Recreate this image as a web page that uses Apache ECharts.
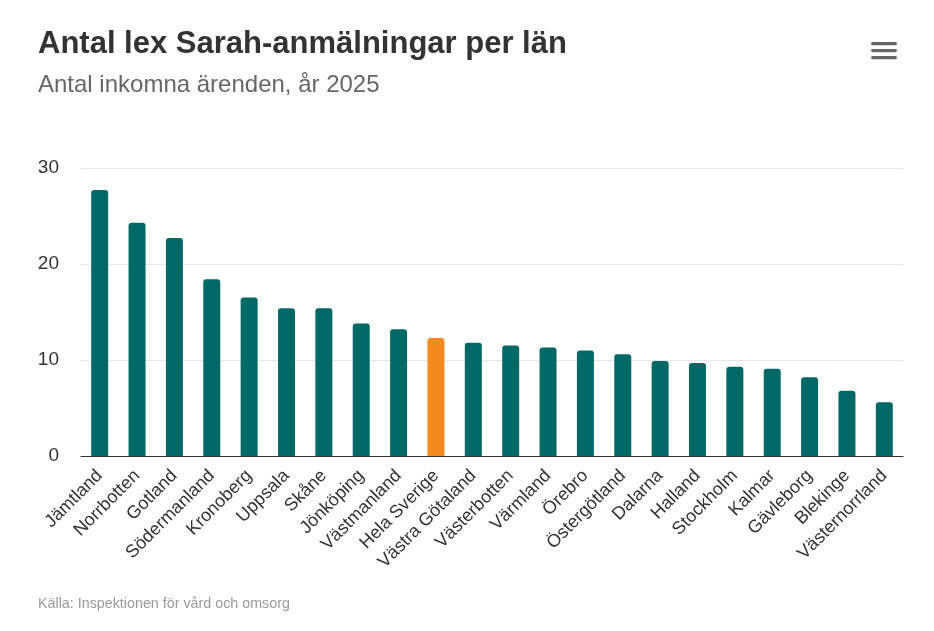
<!DOCTYPE html>
<html>
<head>
<meta charset="utf-8">
<title>Antal lex Sarah-anmälningar per län</title>
<script src="https://cdn.jsdelivr.net/npm/echarts@6/dist/echarts.min.js"></script>
<style>
  html, body { margin: 0; padding: 0; background: #fff; }
  #chart { width: 934px; height: 631px; }
</style>
</head>
<body>
<div id="chart"></div>
<script>
// data
var lan = ['Jämtland', 'Norrbotten', 'Gotland', 'Södermanland', 'Kronoberg', 'Uppsala',
    'Skåne', 'Jönköping', 'Västmanland', 'Hela Sverige', 'Västra Götaland', 'Västerbotten',
    'Värmland', 'Örebro', 'Östergötland', 'Dalarna', 'Halland', 'Stockholm', 'Kalmar',
    'Gävleborg', 'Blekinge', 'Västernorrland'];
var antal = [27.7, 24.3, 22.7, 18.4, 16.5, 15.4, 15.4, 13.8, 13.2, 12.3, 11.8, 11.5,
    11.3, 11.0, 10.6, 9.9, 9.7, 9.3, 9.1, 8.2, 6.8, 5.6];
var markerad = 'Hela Sverige';
var yTicks = [0, 10, 20, 30];

var font = '"Liberation Sans", Arial, sans-serif';

var myChart = echarts.init(document.getElementById('chart'));

var option = {
    animation: false,
    title: [
        {
            text: 'Antal lex Sarah-anmälningar per län',
            left: 33,
            top: 24,
            textStyle: { color: '#333', fontSize: 31, fontWeight: 'bold', fontFamily: font }
        },
        {
            text: 'Antal inkomna ärenden, år 2025',
            left: 33,
            top: 68,
            textStyle: { color: '#666', fontSize: 24, fontWeight: 'normal', fontFamily: font }
        },
        {
            text: 'Källa: Inspektionen för vård och omsorg',
            left: 33,
            top: 592,
            textStyle: { color: '#999', fontSize: 14.3, fontWeight: 'normal', fontFamily: font }
        }
    ],
    // hamburger menu icon top right
    graphic: [
        { type: 'rect', shape: { x: 871, y: 42, width: 26, height: 3.2, r: 1.6 }, style: { fill: '#666' } },
        { type: 'rect', shape: { x: 871, y: 49, width: 26, height: 3.2, r: 1.6 }, style: { fill: '#666' } },
        { type: 'rect', shape: { x: 871, y: 56, width: 26, height: 3.2, r: 1.6 }, style: { fill: '#666' } }
    ],
    grid: {
        left: 81,
        right: 31,
        top: 168,
        bottom: 175,
        containLabel: false
    },
    xAxis: {
        type: 'category',
        data: lan,
        axisLine: { lineStyle: { color: '#333', width: 1 } },
        axisTick: { show: false },
        axisLabel: {
            rotate: 45,
            interval: 0,
            color: '#333',
            fontSize: 18,
            fontFamily: font,
            margin: 17
        }
    },
    yAxis: {
        type: 'value',
        min: yTicks[0],
        max: yTicks[yTicks.length - 1],
        interval: 10,
        axisLine: { show: false },
        axisTick: { show: false },
        splitLine: { lineStyle: { color: '#e6e6e6', width: 1 } },
        axisLabel: {
            color: '#333',
            fontSize: 19,
            fontFamily: font,
            margin: 22,
            padding: [4, 0, 0, 0]
        }
    },
    series: [
        {
            type: 'bar',
            barWidth: 17,
            data: antal.map(function (v, i) {
                return {
                    value: v,
                    itemStyle: { color: lan[i] === markerad ? '#f28a1f' : '#006965' }
                };
            }),
            itemStyle: { borderRadius: [3, 3, 0, 0] }
        }
    ]
};

myChart.setOption(option, true);
</script>
</body>
</html>
